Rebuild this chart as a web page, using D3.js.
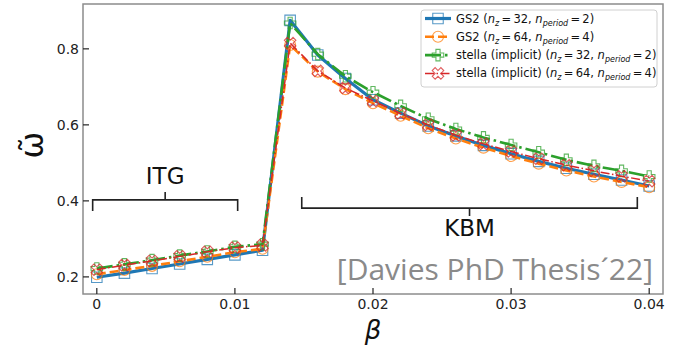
<!DOCTYPE html>
<html>
<head>
<meta charset="utf-8">
<script src="https://cdn.jsdelivr.net/npm/d3@7"></script>
<style>
  body { margin: 0; background: white; }
  svg { display: block; font-family: "DejaVu Sans", sans-serif; }
</style>
</head>
<body>
<div id="chart"></div>
<script>
// beta values (x axis)
const betas = [0, 0.002, 0.004, 0.006, 0.008, 0.010, 0.012, 0.014, 0.016, 0.018, 0.020,
  0.022, 0.024, 0.026, 0.028, 0.030, 0.032, 0.034, 0.036, 0.038, 0.040]

// omega values
const gs2Nz32 = [0.199, 0.210, 0.222, 0.234, 0.246, 0.258, 0.270, 0.875, 0.784, 0.722, 0.666,
  0.631, 0.597, 0.571, 0.546, 0.524, 0.504, 0.486, 0.470, 0.455, 0.439]
const gs2Nz64 = [0.207, 0.218, 0.229, 0.241, 0.253, 0.265, 0.274, 0.810, 0.740, 0.694, 0.657,
  0.624, 0.591, 0.564, 0.540, 0.518, 0.498, 0.480, 0.464, 0.450, 0.436]
const stellaNz32 = [0.222, 0.233, 0.244, 0.256, 0.267, 0.279, 0.286, 0.868, 0.786, 0.728, 0.686,
  0.650, 0.616, 0.589, 0.567, 0.547, 0.528, 0.508, 0.492, 0.479, 0.464]
const stellaNz64 = [0.219, 0.231, 0.242, 0.254, 0.266, 0.277, 0.283, 0.815, 0.742, 0.697, 0.663,
  0.630, 0.600, 0.573, 0.550, 0.530, 0.511, 0.494, 0.479, 0.465, 0.452]

const xTicks = [0, 0.01, 0.02, 0.03, 0.04]
const xTickLabels = ["0", "0.01", "0.02", "0.03", "0.04"]
const yTicks = [0.2, 0.4, 0.6, 0.8]

const series = [
  { name: "GS2", nz: 32, np: 2, values: gs2Nz32, color: "#1f77b4", width: 3.2, dash: null, marker: "square" },
  { name: "GS2", nz: 64, np: 4, values: gs2Nz64, color: "#ff7f0e", width: 2.6, dash: "9,4", marker: "circle" },
  { name: "stella (implicit)", nz: 32, np: 2, values: stellaNz32, color: "#2ca02c", width: 2.6, dash: "16,4,2.5,4", marker: "plus" },
  { name: "stella (implicit)", nz: 64, np: 4, values: stellaNz64, color: "#d62728", width: 1.5, dash: "9,2.5,1.5,2.5", marker: "x" }
]

const width = 675
const height = 348

const x = d3.scaleLinear().domain([-0.001, 0.041]).range([83, 663])
const y = d3.scaleLinear().domain([0.155, 0.918]).range([294, 4])

const svg = d3.select("#chart").append("svg")
  .attr("width", width)
  .attr("height", height)

// watermark
svg.append("text")
  .attr("x", 653)
  .attr("y", 280)
  .attr("text-anchor", "end")
  .style("font-family", "'Open Sans', sans-serif")
  .style("font-size", "30px")
  .attr("fill", "#8a8a8a")
  .text("[Davies PhD Thesis\u00b422]")

// brackets
const bracketColor = "#222"
function bracket(x0, x1, yv, dir, label, labelDy) {
  const g = svg.append("g")
  const py = y(yv)
  const xm = (x(x0) + x(x1)) / 2
  g.append("path")
    .attr("d", `M${x(x0)},${py + 11 * dir}V${py}H${x(x1)}V${py + 11 * dir}M${xm},${py}V${py - 8 * dir}`)
    .attr("fill", "none")
    .attr("stroke", bracketColor)
    .attr("stroke-width", 1.6)
  g.append("text")
    .attr("x", xm)
    .attr("y", py + labelDy)
    .attr("text-anchor", "middle")
    .style("font-size", "23px")
    .attr("fill", "#111")
    .text(label)
}
bracket(-0.0003, 0.0102, 0.4026, 1, "ITG", -16)
bracket(0.01484, 0.03914, 0.381, -1, "KBM", 28)

// markers
function markerPath(type, s) {
  const h = s / 2
  if (type === "square") return `M${-h},${-h}H${h}V${h}H${-h}Z`
  if (type === "circle") return d3.symbol(d3.symbolCircle, Math.PI * h * h)()
  if (type === "plus") {
    const a = s * 0.18
    return `M${-a},${-h}H${a}V${-a}H${h}V${a}H${a}V${h}H${-a}V${a}H${-h}V${-a}H${-a}Z`
  }
  // filled x outline
  const pts = [[-0.5, -0.25], [-0.25, 0], [-0.5, 0.25], [-0.25, 0.5], [0, 0.25], [0.25, 0.5],
    [0.5, 0.25], [0.25, 0], [0.5, -0.25], [0.25, -0.5], [0, -0.25], [-0.25, -0.5]]
  return "M" + pts.map(p => [p[0] * s, p[1] * s].join(",")).join("L") + "Z"
}

const line = d3.line()
  .x((d, i) => x(betas[i]))
  .y(d => y(d))

const markerSize = { square: 10.5, circle: 11, plus: 11.5, x: 11.5 }

series.forEach(s => {
  svg.append("path")
    .datum(s.values)
    .attr("d", line)
    .attr("fill", "none")
    .attr("stroke", s.color)
    .attr("stroke-width", s.width)
    .attr("stroke-dasharray", s.dash)
    .attr("stroke-linejoin", "round")

  svg.append("g").selectAll("path")
    .data(s.values)
    .enter()
    .append("path")
    .attr("transform", (d, i) => `translate(${x(betas[i])},${y(d)})`)
    .attr("d", markerPath(s.marker, markerSize[s.marker]))
    .attr("fill", "none")
    .attr("stroke", s.color)
    .attr("stroke-opacity", 0.75)
    .attr("stroke-width", 1.1)
})

// axes frame
svg.append("rect")
  .attr("x", 83)
  .attr("y", 4)
  .attr("width", 580)
  .attr("height", 290)
  .attr("fill", "none")
  .attr("stroke", "#8c8c8c")
  .attr("stroke-width", 1.5)

// x ticks (inward)
const xAxis = svg.append("g")
xAxis.selectAll("line")
  .data(xTicks)
  .enter()
  .append("line")
  .attr("x1", d => x(d))
  .attr("x2", d => x(d))
  .attr("y1", 294)
  .attr("y2", 288)
  .attr("stroke", "#222")
  .attr("stroke-width", 1.2)
xAxis.selectAll("text")
  .data(xTicks)
  .enter()
  .append("text")
  .attr("x", d => x(d))
  .attr("y", 309)
  .attr("text-anchor", "middle")
  .style("font-size", "14px")
  .attr("fill", "#222")
  .text((d, i) => xTickLabels[i])

// y ticks (inward)
const yAxis = svg.append("g")
yAxis.selectAll("line")
  .data(yTicks)
  .enter()
  .append("line")
  .attr("x1", 83)
  .attr("x2", 89)
  .attr("y1", d => y(d))
  .attr("y2", d => y(d))
  .attr("stroke", "#222")
  .attr("stroke-width", 1.2)
yAxis.selectAll("text")
  .data(yTicks)
  .enter()
  .append("text")
  .attr("x", 79)
  .attr("y", d => y(d) + 5)
  .attr("text-anchor", "end")
  .style("font-size", "14px")
  .attr("fill", "#222")
  .text(d => d3.format(".1f")(d))

// axis labels
svg.append("text")
  .attr("x", x(0.02))
  .attr("y", 339)
  .attr("text-anchor", "middle")
  .style("font-size", "26px")
  .style("font-style", "italic")
  .attr("fill", "#111")
  .text("\u03b2")

svg.append("text")
  .attr("transform", "translate(43,145) rotate(-90)")
  .attr("text-anchor", "middle")
  .style("font-size", "32px")
  .attr("fill", "#111")
  .text("\u03c9\u0303")

// legend
const legend = svg.append("g")
legend.append("rect")
  .attr("x", 421)
  .attr("y", 10)
  .attr("width", 236)
  .attr("height", 77)
  .attr("rx", 3)
  .attr("fill", "white")
  .attr("fill-opacity", 0.85)
  .attr("stroke", "#d0d0d0")
  .attr("stroke-width", 1)

series.forEach((s, i) => {
  const ly = 18.5 + i * 18.3
  const g = legend.append("g")
  g.append("line")
    .attr("x1", 425)
    .attr("x2", 451)
    .attr("y1", ly)
    .attr("y2", ly)
    .attr("stroke", s.color)
    .attr("stroke-width", s.width)
    .attr("stroke-dasharray", s.dash)
  g.append("path")
    .attr("transform", `translate(438,${ly})`)
    .attr("d", markerPath(s.marker, markerSize[s.marker]))
    .attr("fill", "none")
    .attr("stroke", s.color)
    .attr("stroke-opacity", 0.75)
    .attr("stroke-width", 1.1)

  const t = g.append("text")
    .attr("x", 456)
    .attr("y", ly + 4)
    .style("font-size", "11.5px")
    .attr("fill", "#111")
  t.append("tspan").text(s.name + " (")
  t.append("tspan").style("font-style", "italic").text("n")
  t.append("tspan").style("font-style", "italic").style("font-size", "8px").attr("dy", 3).text("z")
  t.append("tspan").attr("dy", -3).text("\u2009=\u2009" + s.nz + ", ")
  t.append("tspan").style("font-style", "italic").text("n")
  t.append("tspan").style("font-style", "italic").style("font-size", "8px").attr("dy", 3).text("period")
  t.append("tspan").attr("dy", -3).text("\u2009=\u2009" + s.np + ")")
})
</script>
</body>
</html>
